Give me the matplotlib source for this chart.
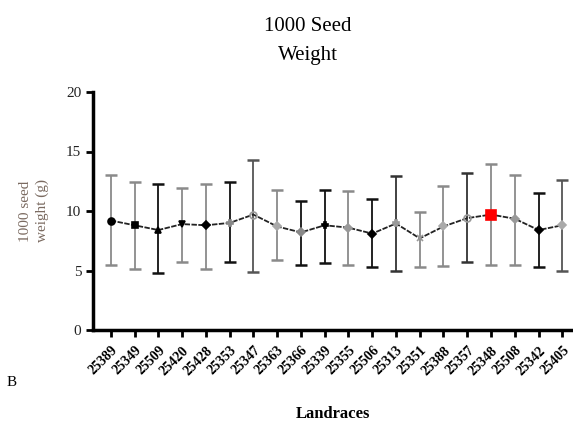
import matplotlib
matplotlib.use("Agg")
from matplotlib import pyplot as plt
import numpy as np

landraces = ['25389', '25349', '25509', '25420', '25428', '25353', '25347', '25363',
             '25366', '25339', '25355', '25506', '25313', '25351', '25388', '25357',
             '25348', '25508', '25342', '25405']
mean_weight = [9.2, 8.8, 8.4, 8.9, 8.8, 9.0, 9.7, 8.7, 8.2, 8.8,
               8.6, 8.1, 8.95, 7.7, 8.7, 9.4, 9.7, 9.35, 8.4, 8.8]
upper_cap = [13.0, 12.4, 12.3, 11.9, 12.3, 12.4, 14.3, 11.8, 10.8, 11.8,
             11.7, 11.05, 12.95, 9.9, 12.1, 13.2, 13.95, 13.05, 11.5, 12.6]
lower_cap = [5.5, 5.1, 4.8, 5.7, 5.1, 5.7, 4.9, 5.85, 5.5, 5.65,
             5.5, 5.3, 4.95, 5.3, 5.4, 5.7, 5.5, 5.5, 5.3, 4.95]

bar_colors = ['#8a8a8a', '#8a8a8a', '#111111', '#8a8a8a', '#8a8a8a', '#111111', '#555555',
              '#8a8a8a', '#111111', '#111111', '#8a8a8a', '#111111', '#333333', '#8a8a8a',
              '#8a8a8a', '#333333', '#8a8a8a', '#8a8a8a', '#111111', '#555555']
markers = ['o', 's', '^', 'v', 'D', 'P', 'o', 'D', 'D', 'P',
           'D', 'D', 'P', 'x', 'D', 'o', 's', 'D', 'D', 'D']
marker_colors = ['black', 'black', 'black', 'black', 'black', '#888888', '#999999', '#aaaaaa',
                 '#888888', 'black', '#999999', 'black', '#999999', '#999999', '#aaaaaa',
                 '#999999', 'red', '#999999', 'black', '#aaaaaa']
open_marker = [False, False, False, False, False, False, True, False, False, False,
               False, False, False, False, False, True, False, False, False, False]

plt.rcParams['font.family'] = ['Liberation Serif', 'DejaVu Serif']

fig = plt.figure(figsize=(5.73, 4.29), dpi=100)
ax = fig.add_axes([93 / 573, 1 - 330 / 429, 1 - 93 / 573, (330 - 92) / 429])

x = np.arange(len(landraces))
ax.plot(x, mean_weight, color='#222222', lw=1.3, ls=(0, (3, 0.8)), zorder=2)

for i in range(len(x)):
    err = [[mean_weight[i] - lower_cap[i]], [upper_cap[i] - mean_weight[i]]]
    ax.errorbar(x[i], mean_weight[i], yerr=err, color=bar_colors[i], lw=1.3,
                capsize=4, capthick=1.8, fmt='none', zorder=1)
    size = 5 if markers[i] in ('o', 's') else 4
    if marker_colors[i] == 'red':
        size = 6.5
    face = 'none' if open_marker[i] else marker_colors[i]
    ax.plot(x[i], mean_weight[i], marker=markers[i], ms=size, mfc=face,
            mec=marker_colors[i], mew=1.2, ls='none', zorder=3)

ax.set_xlim(-0.75, 19.45)
ax.set_ylim(0, 20)
ax.set_yticks([0, 5, 10, 15, 20])
ax.set_xticks(x)
ax.set_xticklabels(landraces, rotation=45, ha='right', rotation_mode='anchor',
                   fontsize=10, fontweight='bold')
ax.tick_params(axis='y', labelsize=11, width=2, length=5, labelcolor='#222222')
ax.tick_params(axis='x', width=2, length=5, pad=5)

ax.spines['right'].set_visible(False)
ax.spines['top'].set_visible(False)
ax.spines['left'].set_linewidth(2.5)
ax.spines['bottom'].set_linewidth(2.5)

ax.set_ylabel('1000 seed\nweight (g)', fontsize=11, color='#7a6a60', labelpad=12,
              linespacing=1.4)
ax.set_xlabel('Landraces', fontsize=12, fontweight='bold', labelpad=20)

fig.text(308 / 573, 1 - 41 / 429, '1000 Seed\nWeight', ha='center', va='center',
         fontsize=15, linespacing=1.7)
fig.text(12 / 573, 1 - 382 / 429, 'B', ha='center', va='center', fontsize=11)

fig.savefig('out.png', dpi=100)
